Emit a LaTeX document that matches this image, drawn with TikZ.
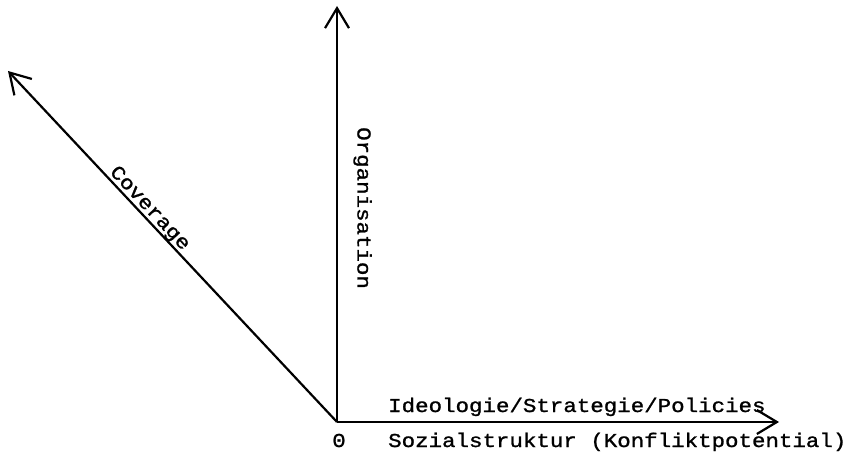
\documentclass[tikz,border=0pt]{standalone}
\usepackage{fontspec}
\usepackage{tikz}
\usetikzlibrary{arrows.meta,positioning,calc}
\newfontfamily\axisfont[FakeStretch=1.14,FakeBold=1.2]{Liberation Mono}
\newcommand{\axislbl}{\axisfont\fontsize{19.7}{23}\selectfont}

\begin{document}
\begin{tikzpicture}[
  x=1pt, y=1pt,
  axis/.style={-{Straight Barb[length=20pt,width=24pt,line width=2.2pt]}, line width=2.2pt},
  lbl/.style={font=\axislbl, inner sep=0pt}
]
\useasboundingbox (0,0) rectangle (847,451);

\coordinate (origin) at (337,29);
\coordinate (orgtip) at (337,445);
\coordinate (covtip) at (8,380);
\coordinate (ideotip) at (779,29);

\draw[axis] (origin) -- (orgtip);
\draw[axis] (origin) -- (covtip);
\draw[axis] (origin) -- (ideotip);

\node[lbl, anchor=base] (zero) at (339,4) {0};
\node[lbl, anchor=base west] (ideo) at (388,39) {Ideologie/Strategie/Policies};
\node[lbl, anchor=base west] (sozial) at (388,4) {Sozialstruktur (Konfliktpotential)};
\node[lbl, anchor=base west, rotate=-90] (orga) at (357.5,324) {Organisation};
\node[lbl, anchor=south, rotate=-46.85] (cover) at ($(origin)!0.59!(covtip)$) {Coverage};
\end{tikzpicture}
\end{document}
